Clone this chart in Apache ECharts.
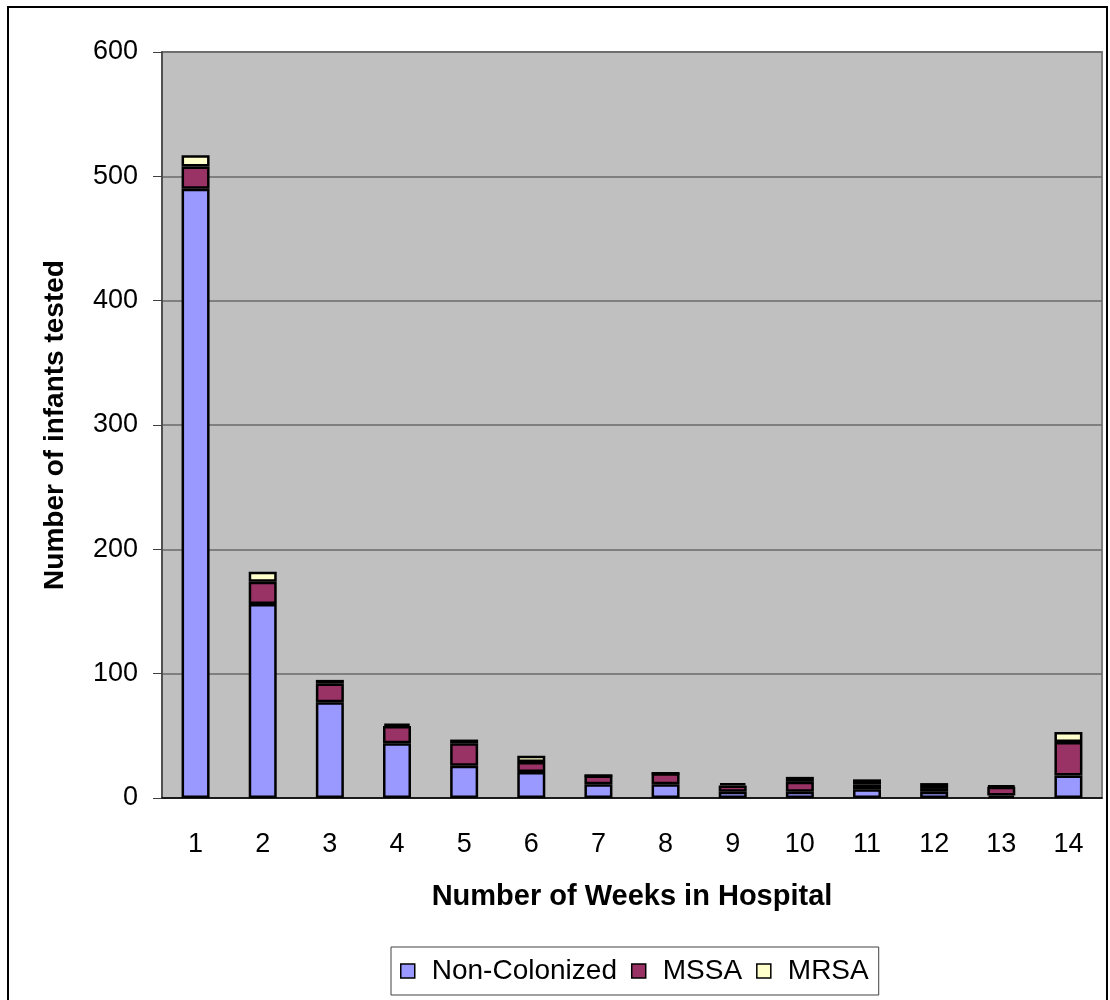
<!DOCTYPE html>
<html>
<head>
<meta charset="utf-8">
<script src="https://cdn.jsdelivr.net/npm/echarts@6/dist/echarts.min.js"></script>
<style>
  html, body { margin: 0; padding: 0; background: #fff; }
  #main { width: 1110px; height: 1000px; }
</style>
</head>
<body>
<div id="main"></div>
<script>
// weeks in hospital and infants per group
var weeks = ['1', '2', '3', '4', '5', '6', '7', '8', '9', '10', '11', '12', '13', '14'];
var nonColonized = [490, 156, 77, 44, 26, 21, 11, 11, 5, 5, 7, 5, 2, 18];
var mssa = [18, 18, 15, 14, 18, 8, 7, 9, 5, 8, 4, 3, 7, 27];
var mrsa = [9, 8, 3, 2, 3, 5, 0, 0, 2, 4, 4, 4, 1, 8];

var font = '"Liberation Sans", Arial, sans-serif';

function barSeries(name, data, color) {
    return {
        name: name,
        type: 'bar',
        stack: 'total',
        barWidth: 28,
        data: data,
        itemStyle: { color: color, borderColor: '#000', borderWidth: 2.5 }
    };
}

var myChart = echarts.init(document.getElementById('main'));
var option = {
    backgroundColor: '#fff',
    animation: false,
    graphic: [{
        type: 'rect',
        shape: { x: 8, y: 7, width: 1099, height: 1010 },
        style: { fill: 'none', stroke: '#000', lineWidth: 2 },
        silent: true
    }],
    grid: {
        left: 162, top: 52, right: 8, bottom: 202,
        show: true,
        backgroundColor: '#c0c0c0',
        borderColor: '#808080',
        borderWidth: 2
    },
    legend: {
        left: 391, top: 947,
        padding: [10, 10, 10, 9],
        borderColor: '#404040',
        borderWidth: 1,
        itemWidth: 14,
        itemHeight: 14,
        itemGap: 14,
        icon: 'rect',
        itemStyle: { borderWidth: 1.5, borderColor: '#000' },
        textStyle: { fontFamily: font, fontSize: 28, color: '#000', padding: [0, 0, 0, 12] },
        data: ['Non-Colonized', 'MSSA', 'MRSA']
    },
    xAxis: {
        type: 'category',
        data: weeks,
        name: 'Number of Weeks in Hospital',
        nameLocation: 'middle',
        nameGap: 84,
        nameTextStyle: { fontFamily: font, fontSize: 29, fontWeight: 'bold', color: '#000' },
        axisLine: { lineStyle: { color: '#000', width: 1.5 } },
        axisTick: { length: 8, lineStyle: { color: '#000' } },
        axisLabel: { fontFamily: font, fontSize: 27, color: '#000', margin: 33 }
    },
    yAxis: {
        type: 'value',
        min: 0,
        max: 600,
        interval: 100,
        name: 'Number of infants tested',
        nameLocation: 'middle',
        nameGap: 93,
        nameTextStyle: { fontFamily: font, fontSize: 28, fontWeight: 'bold', color: '#000' },
        axisLine: { show: true, lineStyle: { color: '#404040', width: 1.5 } },
        axisTick: { show: true, length: 9, lineStyle: { color: '#404040' } },
        axisLabel: { fontFamily: font, fontSize: 27, color: '#000', margin: 24 },
        splitLine: { lineStyle: { color: '#6a6a6a', width: 1.5 } }
    },
    series: [
        barSeries('Non-Colonized', nonColonized, '#9999ff'),
        barSeries('MSSA', mssa, '#993366'),
        barSeries('MRSA', mrsa, '#ffffcc')
    ]
};
myChart.setOption(option);
</script>
</body>
</html>
